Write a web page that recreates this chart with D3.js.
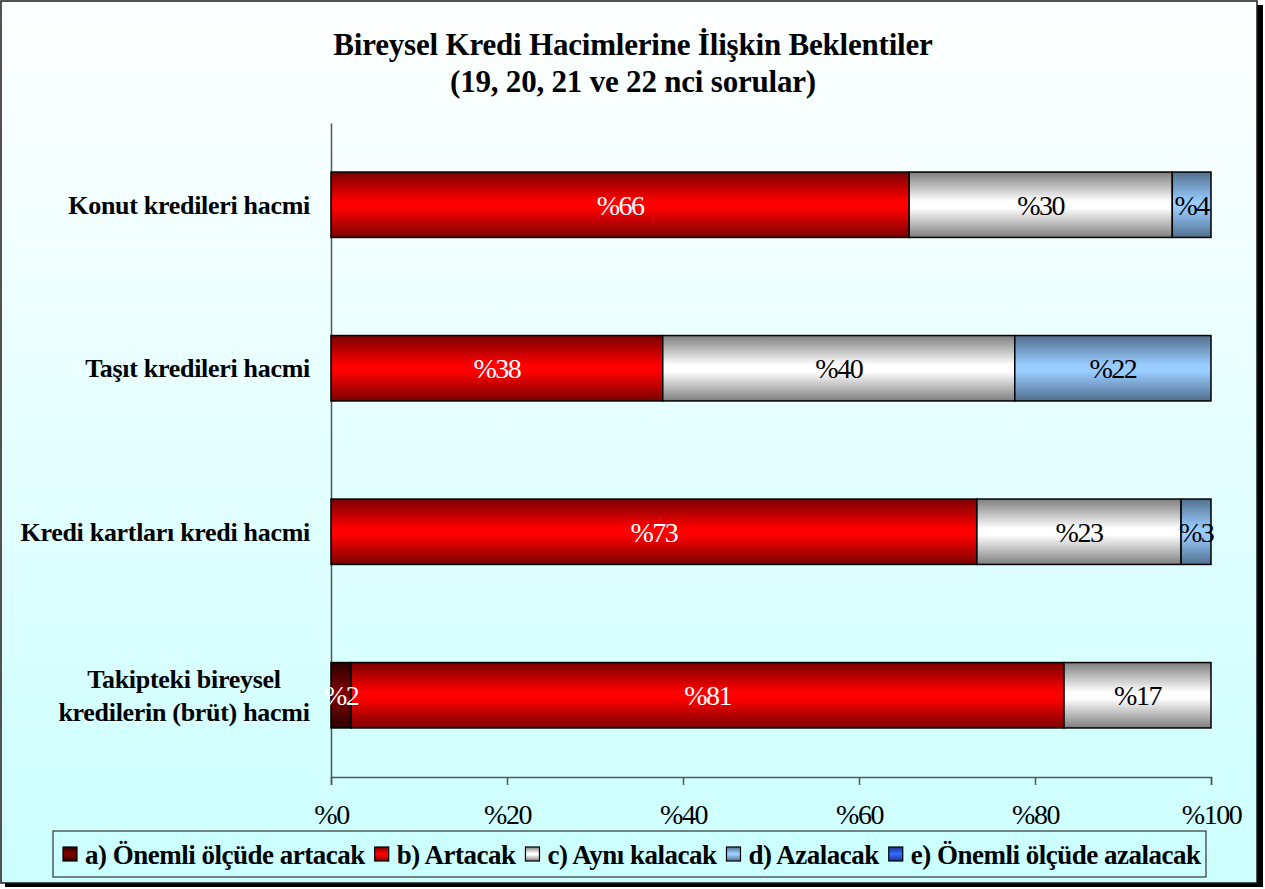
<!DOCTYPE html>
<html>
<head>
<meta charset="utf-8">
<script src="https://cdn.jsdelivr.net/npm/d3@7"></script>
<style>
  html, body { margin: 0; padding: 0; background: #fff; }
  svg { display: block; }
</style>
</head>
<body>
<svg id="chart" width="1265" height="889"></svg>
<script>
// categories (top to bottom), "\n" splits a label over two lines
const categories = [
  'Konut kredileri hacmi',
  'Taşıt kredileri hacmi',
  'Kredi kartları kredi hacmi',
  'Takipteki bireysel\nkredilerin (brüt) hacmi'
];
const seriesNames = [
  'a) Önemli ölçüde artacak',
  'b) Artacak',
  'c) Aynı kalacak',
  'd) Azalacak',
  'e) Önemli ölçüde azalacak'
];
const seriesA = [0, 0, 0, 2.3];
const seriesB = [65.7, 37.7, 73.4, 81.0];
const seriesC = [29.9, 40.0, 23.2, 16.7];
const seriesD = [4.4, 22.3, 3.4, 0];
const seriesE = [0, 0, 0, 0];
const xTicks = [0, 20, 40, 60, 80, 100];

const serif = '"Liberation Serif", "Times New Roman", serif';
const svg = d3.select('#chart');
const defs = svg.append('defs');

// colours: [edge, centre] of each bar's vertical shading
const palette = [
  ['#2a0000', '#800000'],
  ['#7a0000', '#ff0000'],
  ['#7f7f7f', '#ffffff'],
  ['#52708f', '#99ccff'],
  ['#1a3380', '#3366ff']
];
const labelColor = ['#fff', '#fff', '#000', '#000', '#fff'];

palette.forEach((c, i) => {
  const g = defs.append('linearGradient').attr('id', 'bar' + i)
    .attr('x1', 0).attr('y1', 0).attr('x2', 0).attr('y2', 1);
  g.append('stop').attr('offset', '0%').attr('stop-color', c[0]);
  g.append('stop').attr('offset', '45%').attr('stop-color', c[1]);
  g.append('stop').attr('offset', '55%').attr('stop-color', c[1]);
  g.append('stop').attr('offset', '100%').attr('stop-color', c[0]);
});

const bg = defs.append('linearGradient').attr('id', 'bg')
  .attr('x1', 0).attr('y1', 0).attr('x2', 0).attr('y2', 1);
bg.append('stop').attr('offset', '0%').attr('stop-color', '#ffffff');
bg.append('stop').attr('offset', '100%').attr('stop-color', '#ccffff');

// frame with shadow
svg.append('rect').attr('x', 5).attr('y', 5).attr('width', 1258).attr('height', 882).attr('fill', '#000');
svg.append('rect').attr('x', 1).attr('y', 1).attr('width', 1256).attr('height', 882)
  .attr('fill', 'url(#bg)').attr('stroke', '#1a1a1a').attr('stroke-width', 1.5);

// title
const title = svg.append('text')
  .attr('text-anchor', 'middle')
  .attr('font-family', serif).attr('font-weight', 'bold').attr('font-size', 31)
  .attr('letter-spacing', -0.2);
title.append('tspan').attr('x', 633).attr('y', 55).text('Bireysel Kredi Hacimlerine İlişkin Beklentiler');
title.append('tspan').attr('x', 633).attr('y', 92).text('(19, 20, 21 ve 22 nci sorular)');

// scales
const plot = { left: 331, right: 1211, top: 123, bottom: 777 };
const x = d3.scaleLinear().domain([0, 100]).range([plot.left, plot.right]);
const y = d3.scaleBand().domain(categories).range([plot.top, plot.bottom])
  .paddingInner(0.6).paddingOuter(0.3);

// stacked data
const table = categories.map((c, i) => ({
  cat: c, a: seriesA[i], b: seriesB[i], c: seriesC[i], d: seriesD[i], e: seriesE[i]
}));
const keys = ['a', 'b', 'c', 'd', 'e'];
const stacked = d3.stack().keys(keys)(table);

// x axis
const xAxis = d3.axisBottom(x).tickValues(xTicks).tickSize(8).tickFormat(d => '%' + d);
const xAxisG = svg.append('g').attr('transform', `translate(0,${plot.bottom})`).call(xAxis);
xAxisG.select('.domain').attr('stroke', '#555').attr('stroke-width', 1.5);
xAxisG.selectAll('.tick line').attr('stroke', '#555').attr('stroke-width', 1.5);
xAxisG.selectAll('.tick text')
  .attr('y', 47).attr('dy', 0)
  .attr('font-family', serif).attr('font-size', 28).attr('letter-spacing', -1.5)
  .attr('fill', '#000');

// y axis (line only)
const yAxis = d3.axisLeft(y).tickSize(0).tickFormat('');
const yAxisG = svg.append('g').attr('transform', `translate(${plot.left},0)`).call(yAxis);
yAxisG.select('.domain').attr('stroke', '#555').attr('stroke-width', 1.5);

// category labels
categories.forEach(c => {
  const lines = c.split('\n');
  const cy = y(c) + y.bandwidth() / 2;
  const t = svg.append('text')
    .attr('font-family', serif).attr('font-weight', 'bold').attr('font-size', 26)
    .attr('letter-spacing', -0.3).attr('fill', '#000');
  if (lines.length === 1) {
    t.attr('x', 310).attr('y', cy + 9).attr('text-anchor', 'end').text(c);
  } else {
    t.attr('text-anchor', 'middle');
    lines.forEach((l, k) => {
      t.append('tspan').attr('x', 184).attr('y', cy + 9 + (k - 0.5) * 33).text(l);
    });
  }
});

// bars
const layers = svg.append('g').selectAll('g.layer').data(stacked).join('g')
  .attr('class', 'layer')
  .attr('fill', (d, i) => `url(#bar${i})`);

layers.selectAll('rect')
  .data(d => d.filter(p => p[1] - p[0] > 0))
  .join('rect')
  .attr('x', p => x(p[0]))
  .attr('y', p => y(p.data.cat))
  .attr('width', p => x(p[1]) - x(p[0]))
  .attr('height', y.bandwidth())
  .attr('stroke', '#000').attr('stroke-width', 1.5);

// value labels on top of all bars
const labels = svg.append('g');
stacked.forEach((layer, i) => {
  labels.append('g').selectAll('text')
    .data(layer.filter(p => p[1] - p[0] > 0))
    .join('text')
    .attr('x', p => (x(p[0]) + x(p[1])) / 2)
    .attr('y', p => y(p.data.cat) + y.bandwidth() / 2 + 10)
    .attr('text-anchor', 'middle')
    .attr('font-family', serif).attr('font-size', 28).attr('letter-spacing', -1.5)
    .attr('fill', labelColor[i])
    .text(p => '%' + Math.round(p[1] - p[0]));
});

// legend
const legend = svg.append('g');
legend.append('rect').attr('x', 53).attr('y', 831).attr('width', 1153).attr('height', 46)
  .attr('fill', '#ccffff').attr('stroke', '#333').attr('stroke-width', 1.2);
let lx = 63;
seriesNames.forEach((name, i) => {
  legend.append('rect').attr('x', lx).attr('y', 847).attr('width', 14).attr('height', 14)
    .attr('fill', `url(#bar${i})`).attr('stroke', '#000').attr('stroke-width', 1.2);
  const t = legend.append('text')
    .attr('x', lx + 22).attr('y', 864)
    .attr('font-family', serif).attr('font-weight', 'bold').attr('font-size', 27)
    .attr('letter-spacing', -0.5).attr('fill', '#000')
    .text(name);
  lx += 22 + t.node().getComputedTextLength() + 10;
});
</script>
</body>
</html>
